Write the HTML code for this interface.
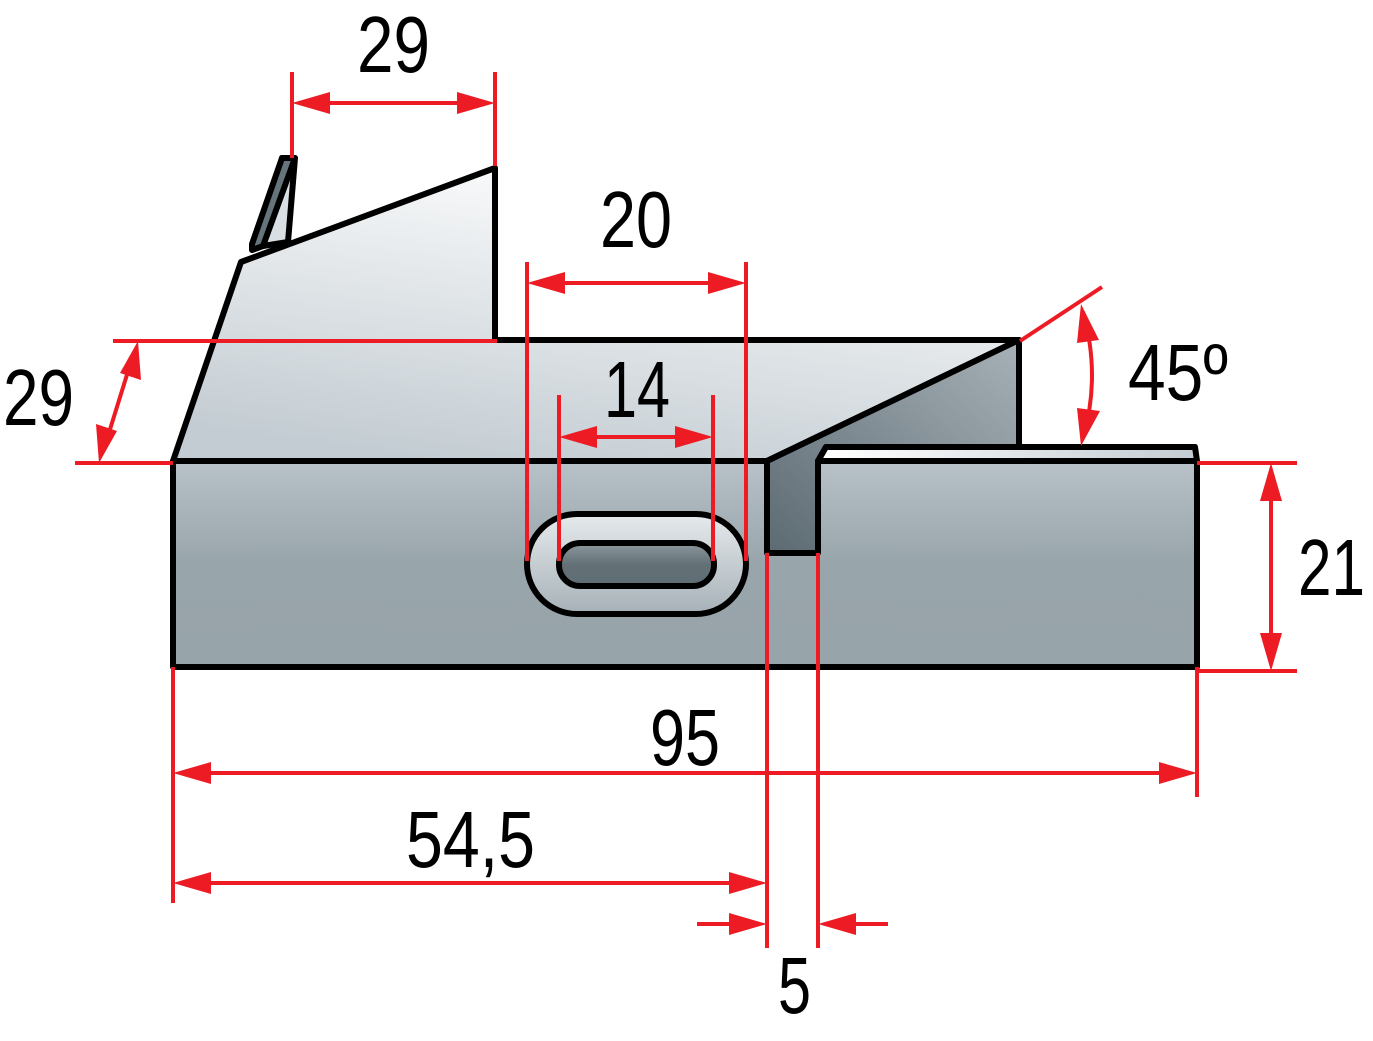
<!DOCTYPE html>
<html><head><meta charset="utf-8"><style>
html,body{margin:0;padding:0;background:#fff;}
svg{display:block;}
text{font-family:"Liberation Sans",sans-serif;font-size:80px;fill:#000;}
</style></head><body>
<svg width="1373" height="1041" viewBox="0 0 1373 1041" xmlns="http://www.w3.org/2000/svg">
<defs>
<linearGradient id="top" x1="0.7" y1="0" x2="0.3" y2="1">
<stop offset="0" stop-color="#ffffff"/><stop offset="1" stop-color="#c3ccd2"/></linearGradient>
<linearGradient id="front" x1="0" y1="0" x2="0" y2="1">
<stop offset="0" stop-color="#b8c2c8"/><stop offset="0.5" stop-color="#98a5ab"/><stop offset="1" stop-color="#97a4aa"/></linearGradient>
<linearGradient id="dark" x1="0" y1="1" x2="1" y2="0">
<stop offset="0" stop-color="#5c6a72"/><stop offset="1" stop-color="#a7b1b7"/></linearGradient>
<linearGradient id="slot" x1="0" y1="0" x2="0" y2="1">
<stop offset="0" stop-color="#e6eaed"/><stop offset="1" stop-color="#a6b1b7"/></linearGradient>
<linearGradient id="slotin" x1="0" y1="0" x2="0" y2="1">
<stop offset="0" stop-color="#8c989e"/><stop offset="0.5" stop-color="#637177"/><stop offset="1" stop-color="#5f6d74"/></linearGradient>
<linearGradient id="strip" x1="0" y1="0" x2="1" y2="0">
<stop offset="0" stop-color="#ffffff"/><stop offset="1" stop-color="#c3ccd2"/></linearGradient>
</defs>
<g stroke="#000" stroke-width="6" stroke-linejoin="round">
<polygon points="282,158 295,158 288,242 263,246" fill="#d9dfe3"/>
<polygon points="252,244 282,158 295,158 263,246 252,250" fill="#66747b"/>
<polygon points="173,461 241,262 495,168 495,340 1019,340 767,461" fill="url(#top)"/>
<polygon points="767,461 1019,340 1019,447 826,447 818,461 818,553 767,553" fill="url(#dark)"/>
<polygon points="173,461 767,461 767,553 818,553 818,461 1197,461 1197,667 173,667" fill="url(#front)"/>
<polygon points="818,461 826,447 1195,447 1197,461" fill="url(#strip)"/>
<rect x="527" y="514" width="219" height="100" rx="50" fill="url(#slot)"/>
<rect x="559" y="543" width="155" height="43" rx="21" fill="url(#slotin)"/>
</g>
<g stroke="#ed1c24" stroke-width="4" fill="none">
<line x1="292" y1="72" x2="292" y2="158"/><line x1="495" y1="72" x2="495" y2="166"/>
<line x1="300" y1="103" x2="487" y2="103"/>
<line x1="527" y1="262" x2="527" y2="561"/><line x1="746" y1="262" x2="746" y2="561"/>
<line x1="535" y1="283" x2="738" y2="283"/>
<line x1="559" y1="395" x2="559" y2="561"/><line x1="713" y1="395" x2="713" y2="561"/>
<line x1="567" y1="437" x2="705" y2="437"/>
<line x1="113" y1="341" x2="497" y2="341"/><line x1="75" y1="463" x2="173" y2="463"/>
<line x1="134" y1="352" x2="103" y2="452"/>
<line x1="1020" y1="341" x2="1102" y2="287"/>
<path d="M1083,312 Q1101,376 1083,438"/>
<line x1="1197" y1="463" x2="1297" y2="463"/><line x1="1197" y1="671" x2="1297" y2="671"/>
<line x1="1271" y1="472" x2="1271" y2="662"/>
<line x1="173" y1="667" x2="173" y2="903"/><line x1="1197" y1="667" x2="1197" y2="797"/>
<line x1="180" y1="773" x2="1190" y2="773"/>
<line x1="767" y1="553" x2="767" y2="948"/><line x1="818" y1="553" x2="818" y2="948"/>
<line x1="180" y1="883" x2="760" y2="883"/>
<line x1="697" y1="924" x2="760" y2="924"/><line x1="888" y1="924" x2="825" y2="924"/>
</g>
<g fill="#ed1c24">
<polygon points="292,103 330,92 330,114"/><polygon points="495,103 457,92 457,114"/>
<polygon points="527,283 565,272 565,294"/><polygon points="746,283 708,272 708,294"/>
<polygon points="559,437 597,426 597,448"/><polygon points="713,437 675,426 675,448"/>
<polygon points="138,341 141,380 120,373"/><polygon points="99,463 96,424 117,431"/>
<polygon points="1081,304 1099,340 1077,343"/><polygon points="1081,446 1077,408 1100,411"/>
<polygon points="1271,463 1260,501 1282,501"/><polygon points="1271,671 1260,633 1282,633"/>
<polygon points="173,773 211,762 211,784"/><polygon points="1197,773 1159,762 1159,784"/>
<polygon points="173,883 211,872 211,894"/><polygon points="767,883 729,872 729,894"/>
<polygon points="767,924 729,913 729,935"/><polygon points="818,924 856,913 856,935"/>
</g>
<g>
<text x="357" y="72" textLength="73" lengthAdjust="spacingAndGlyphs">29</text>
<text x="600" y="247" textLength="72" lengthAdjust="spacingAndGlyphs">20</text>
<text x="604" y="417" textLength="66" lengthAdjust="spacingAndGlyphs">14</text>
<text x="3" y="425" textLength="71" lengthAdjust="spacingAndGlyphs">29</text>
<text x="1128" y="400" textLength="100" lengthAdjust="spacingAndGlyphs">45º</text>
<text x="1298" y="595" textLength="67" lengthAdjust="spacingAndGlyphs">21</text>
<text x="650" y="765" textLength="70" lengthAdjust="spacingAndGlyphs">95</text>
<text x="406" y="867" textLength="129" lengthAdjust="spacingAndGlyphs">54,5</text>
<text x="778" y="1013" textLength="33" lengthAdjust="spacingAndGlyphs">5</text>
</g>
</svg>
</body></html>
